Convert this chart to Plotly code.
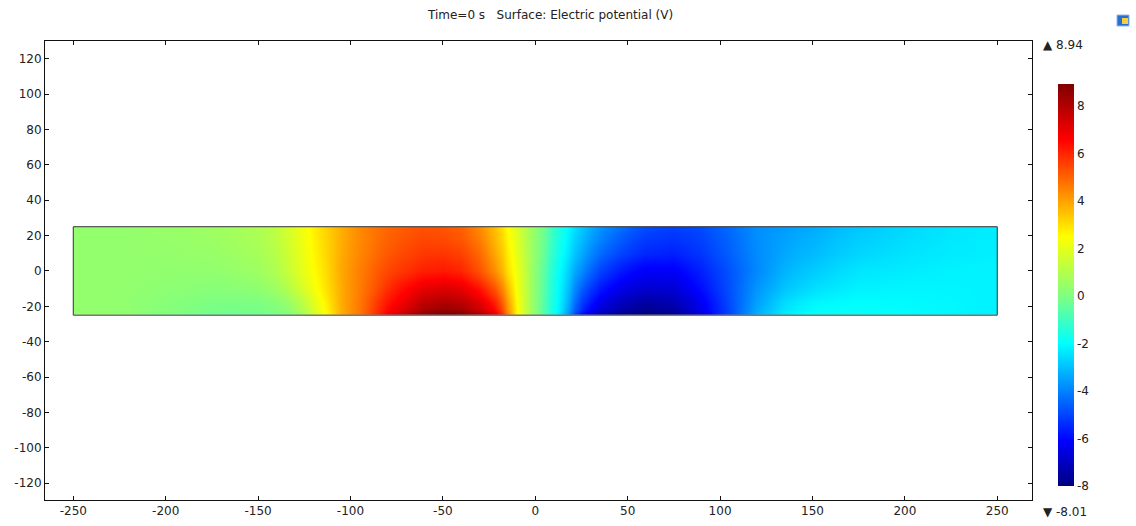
import plotly.graph_objects as go

# Cell edges of the sampled strip (x along the strip, y across it)
x_edges = [-250, -230, -210, -185, -160, -140, -130, -120, -110, -100, -90, -80,
           -67, -55, -45, -35, -26, -18, -12.5, -7.5, -2.5, 2.5, 8, 15, 21, 30,
           40, 52, 67, 82, 97, 112, 127, 142, 162, 187, 212, 237, 250]
y_edges = [-25, -22, -14, -5, 5, 14, 22, 25]

# Electric potential (V) per cell, rows from bottom (y=-25) to top (y=25)
v_row_1 = [0.4, 0.3, 0.05, -0.2, -0.2, 0.05, 0.9, 2.3, 3.8, 4.7, 6.0, 7.3, 8.5, 8.94, 8.7, 8.0, 6.8, 4.5, 2.6, 1.3,
           0.2, -0.9, -2.0, -3.7, -5.8, -7.0, -7.6, -8.01, -7.7, -6.5, -5.0, -3.3, -2.3, -1.9, -1.9, -2.0, -2.1, -2.2]
v_row_2 = [0.4, 0.32, 0.12, -0.08, -0.05, 0.35, 1.25, 2.5, 3.85, 4.68, 5.8, 6.8, 7.8, 8.1, 7.9, 7.2, 6.1, 4.1, 2.5, 1.28,
           0.2, -0.85, -1.95, -3.4, -5.2, -6.4, -7.1, -7.5, -7.3, -6.3, -4.95, -3.5, -2.55, -2.1, -2.0, -2.05, -2.12, -2.2]
v_row_3 = [0.4, 0.35, 0.25, 0.15, 0.3, 0.95, 1.8, 2.8, 3.85, 4.6, 5.4, 6.3, 7.0, 7.2, 7.0, 6.3, 5.2, 3.6, 2.3, 1.25,
           0.2, -0.78, -1.88, -3.1, -4.6, -5.7, -6.4, -6.8, -6.7, -5.9, -4.85, -3.7, -2.95, -2.5, -2.2, -2.15, -2.15, -2.2]
v_row_4 = [0.4, 0.38, 0.33, 0.35, 0.6, 1.3, 2.1, 2.9, 3.9, 4.55, 5.2, 5.7, 6.1, 6.2, 6.0, 5.3, 4.3, 3.0, 2.2, 1.2,
           0.2, -0.7, -1.8, -2.8, -3.9, -5.0, -5.7, -6.2, -6.2, -5.6, -4.8, -3.9, -3.2, -2.8, -2.4, -2.3, -2.2, -2.2]
v_row_5 = [0.4, 0.4, 0.4, 0.48, 0.75, 1.45, 2.2, 3.0, 3.85, 4.45, 4.95, 5.4, 5.7, 5.75, 5.55, 4.95, 3.9, 2.8, 2.0, 1.12,
           0.25, -0.55, -1.6, -2.45, -3.4, -4.35, -5.0, -5.5, -5.6, -5.25, -4.6, -3.85, -3.4, -3.05, -2.65, -2.45, -2.3, -2.25]
v_row_6 = [0.4, 0.4, 0.43, 0.56, 0.85, 1.55, 2.27, 3.05, 3.8, 4.4, 4.85, 5.2, 5.45, 5.4, 5.2, 4.6, 3.65, 2.6, 1.9, 1.05,
           0.28, -0.45, -1.48, -2.25, -3.1, -3.95, -4.6, -5.15, -5.3, -5.05, -4.5, -3.8, -3.5, -3.2, -2.8, -2.55, -2.35, -2.28]
v_row_7 = [0.4, 0.4, 0.45, 0.6, 0.9, 1.6, 2.3, 3.1, 3.8, 4.4, 4.8, 5.1, 5.3, 5.25, 5.05, 4.4, 3.5, 2.5, 1.8, 1.0,
           0.3, -0.4, -1.4, -2.1, -2.9, -3.7, -4.3, -4.9, -5.1, -4.9, -4.4, -3.8, -3.6, -3.3, -2.9, -2.6, -2.4, -2.3]

v_min, v_max = -8.01, 8.94

x_ticks = [-250, -200, -150, -100, -50, 0, 50, 100, 150, 200, 250]
y_ticks = [-120, -100, -80, -60, -40, -20, 0, 20, 40, 60, 80, 100, 120]
cbar_ticks = [-8, -6, -4, -2, 0, 2, 4, 6, 8]

title_text = "Time=0 s   Surface: Electric potential (V)"

# jet-like rainbow anchored at fixed potential levels
def _t(v):
    return (v - v_min) / (v_max - v_min)

colorscale = [
    [0.0, "#000080"],
    [_t(-6.1), "#0000ff"],
    [_t(-2.0), "#00ffff"],
    [_t(0.0), "#80ff80"],
    [_t(2.5), "#ffff00"],
    [_t(6.6), "#ff0000"],
    [1.0, "#800000"],
]

FONT = "DejaVu Sans"
TXT = "#222222"

W, H = 1136, 526
L, R, T, B = 45, 104, 41, 26
PW, PH = W - L - R, H - T - B


def px(xp):
    return (xp - L) / PW


def py(yp):
    return (H - B - yp) / PH


z = [v_row_1, v_row_2, v_row_3, v_row_4, v_row_5, v_row_6, v_row_7]

fig = go.Figure()
fig.add_trace(go.Heatmap(
    x=x_edges, y=y_edges, z=z,
    zmin=v_min, zmax=v_max, zsmooth="best",
    colorscale=colorscale,
    hoverinfo="skip",
    colorbar=dict(
        thickness=16, x=px(1058), xanchor="left",
        lenmode="pixels", len=422, y=py(285), yanchor="middle",
        outlinewidth=0, xpad=0,
        tickvals=cbar_ticks, ticktext=[str(v) for v in cbar_ticks],
        ticks="", ticklabelposition="outside",
        tickfont=dict(family=FONT, size=12, color=TXT),
    ),
))

# strip outline
fig.add_shape(type="rect", xref="x", yref="y",
              x0=x_edges[0], x1=x_edges[-1], y0=y_edges[0], y1=y_edges[-1],
              line=dict(color="#333333", width=1))

axis_common = dict(
    showgrid=False, zeroline=False, showline=True, linecolor="#111111", linewidth=1,
    mirror="ticks", ticks="inside", ticklen=4, tickcolor="#111111",
    tickfont=dict(family=FONT, size=12, color=TXT),
)
fig.update_xaxes(range=[-265.3, 268.8], tickvals=x_ticks,
                 ticktext=[str(v) for v in x_ticks], **axis_common)
fig.update_yaxes(range=[-129.5, 130], tickvals=y_ticks,
                 ticktext=[str(v) for v in y_ticks], **axis_common)

annotations = [
    dict(text=title_text, x=px(550), y=py(15), xref="paper", yref="paper",
         showarrow=False, xanchor="center", yanchor="middle",
         font=dict(family=FONT, size=12, color=TXT)),
    dict(text="\u25b2 " + f"{v_max:.2f}", x=px(1041), y=py(45), xref="paper", yref="paper",
         showarrow=False, xanchor="left", yanchor="middle",
         font=dict(family=FONT, size=12, color=TXT)),
    dict(text="\u25bc " + f"{v_min:.2f}", x=px(1041), y=py(512), xref="paper", yref="paper",
         showarrow=False, xanchor="left", yanchor="middle",
         font=dict(family=FONT, size=12, color=TXT)),
]

# small toolbar badge in the corner
fig.add_shape(type="rect", xref="paper", yref="paper",
              x0=px(1117), x1=px(1129), y0=py(26), y1=py(15),
              fillcolor="#2a6fd0", line=dict(color="#8fb6ea", width=1), layer="above")
fig.add_shape(type="rect", xref="paper", yref="paper",
              x0=px(1122), x1=px(1128), y0=py(24), y1=py(18),
              fillcolor="#f4d03f", line=dict(width=0), layer="above")

fig.update_layout(
    width=W, height=H,
    margin=dict(l=L, r=R, t=T, b=B, autoexpand=False),
    paper_bgcolor="white", plot_bgcolor="white",
    annotations=annotations,
    showlegend=False,
    font=dict(family=FONT, size=12, color=TXT),
)

fig.write_html("out.html")
